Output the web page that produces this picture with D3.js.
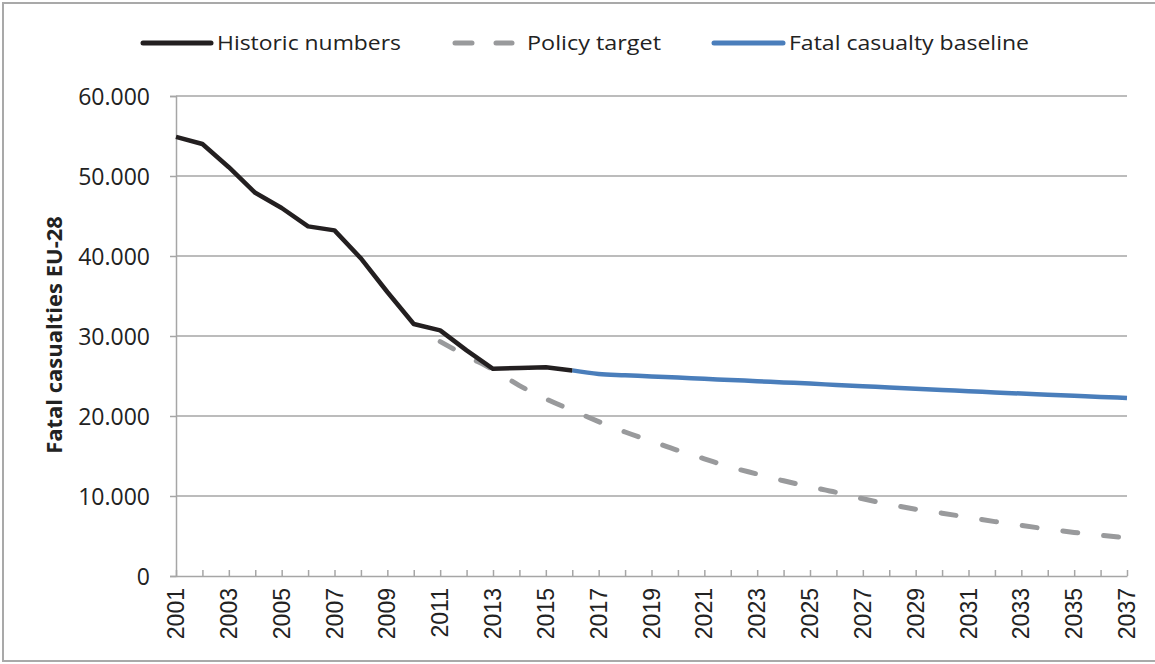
<!DOCTYPE html>
<html>
<head>
<meta charset="utf-8">
<script src="https://cdn.jsdelivr.net/npm/d3@7"></script>
<style>
  html, body { margin: 0; padding: 0; background: #fff; }
  svg { display: block; }
</style>
</head>
<body>
<svg id="chart" width="1155" height="664"></svg>
<script>
// ---- data ----
const historicYears = [2001,2002,2003,2004,2005,2006,2007,2008,2009,2010,2011,2012,2013,2014,2015,2016];
const historicValues = [54900,54000,51100,47900,46000,43700,43200,39700,35500,31500,30700,28200,25900,26000,26100,25700];

const targetYears = [2011,2012,2013,2014,2015,2016,2017,2018,2019,2020,2021,2022,2023,2024,2025,2026,2027,2028,2029,2030,2031,2032,2033,2034,2035,2036,2037];
const targetValues = [29300,27500,25800,23800,22150,20700,19300,18000,16850,15700,14650,13600,12750,11900,11150,10450,9650,8950,8350,7850,7330,6800,6320,5870,5450,5100,4790];

const baselineYears = [2016,2017,2018,2019,2020,2021,2022,2023,2024,2025,2026,2027,2028,2029,2030,2031,2032,2033,2034,2035,2036,2037];
const baselineValues = [25700,25250,25100,24950,24800,24650,24500,24350,24200,24050,23880,23720,23560,23400,23250,23100,22950,22800,22660,22520,22380,22250];

const xTickLabels = [2001,2003,2005,2007,2009,2011,2013,2015,2017,2019,2021,2023,2025,2027,2029,2031,2033,2035,2037];
const yTickValues = [0,10000,20000,30000,40000,50000,60000];
const seriesNames = ["Historic numbers","Policy target","Fatal casualty baseline"];
const yAxisTitle = "Fatal casualties EU-28";

// ---- drawing ----
const svg = d3.select("#chart");
const colors = { hist: "#231f20", target: "#999a9c", base: "#4a7ebb", grid: "#a6a6a6" };

const x = d3.scaleLinear().domain([2001, 2037]).range([176, 1127]);
const y = d3.scaleLinear().domain([0, 60000]).range([576, 96]);

const locale = d3.formatLocale({ decimal: ",", thousands: ".", grouping: [3], currency: ["", "€"] });
const fmt = locale.format(",.0f");

// outer border
svg.append("rect").attr("x", 3).attr("y", 3).attr("width", 1170).attr("height", 658)
  .attr("fill", "none").attr("stroke", "#a9a9a9").attr("stroke-width", 2);

// gridlines
svg.append("g").selectAll("line").data(yTickValues.filter(d => d > 0)).join("line")
  .attr("x1", x(2001)).attr("x2", x(2037))
  .attr("y1", d => y(d)).attr("y2", d => y(d))
  .attr("stroke", colors.grid).attr("stroke-width", 1.5);

// y axis
const yAxis = svg.append("g").attr("transform", `translate(${x(2001)},0)`)
  .call(d3.axisLeft(y).tickValues(yTickValues).tickFormat(fmt).tickSize(6).tickPadding(20));
yAxis.select(".domain").attr("stroke", colors.grid).attr("stroke-width", 1.5);
yAxis.selectAll(".tick line").attr("stroke", colors.grid).attr("stroke-width", 1.5);
yAxis.selectAll("text").attr("font-family", "'Open Sans', sans-serif").attr("font-size", 23)
  .attr("fill", "#222").attr("dy", "0.36em");

// x axis
const allYears = d3.range(2001, 2038);
const xAxis = svg.append("g").attr("transform", `translate(0,${y(0)})`)
  .call(d3.axisBottom(x).tickValues(allYears).tickFormat("").tickSizeInner(-6).tickSizeOuter(0));
xAxis.select(".domain").attr("stroke", colors.grid).attr("stroke-width", 1.5);
xAxis.selectAll(".tick line").attr("stroke", colors.grid).attr("stroke-width", 1.5);

svg.append("g").selectAll("text").data(xTickLabels).join("text")
  .attr("transform", d => `translate(${x(d) + 8},${588}) rotate(-90)`)
  .attr("text-anchor", "end")
  .attr("font-family", "'Liberation Sans', Arial, sans-serif")
  .attr("font-size", 23).attr("fill", "#222")
  .text(d => d);

// y axis title
svg.append("text")
  .attr("transform", `translate(62,335) rotate(-90)`)
  .attr("text-anchor", "middle")
  .attr("font-family", "'Open Sans', sans-serif").attr("font-weight", "bold")
  .attr("font-size", 22).attr("fill", "#222")
  .text(yAxisTitle);

// lines
const line = d3.line().x(d => x(d[0])).y(d => y(d[1]));
const lineSmooth = d3.line().x(d => x(d[0])).y(d => y(d[1])).curve(d3.curveMonotoneX);

svg.append("path").datum(d3.zip(targetYears, targetValues))
  .attr("d", lineSmooth).attr("fill", "none").attr("stroke", colors.target)
  .attr("stroke-width", 5).attr("stroke-linecap", "round").attr("stroke-dasharray", "15,26");

svg.append("path").datum(d3.zip(baselineYears, baselineValues))
  .attr("d", lineSmooth).attr("fill", "none").attr("stroke", colors.base)
  .attr("stroke-width", 4.5).attr("stroke-linejoin", "round");

svg.append("path").datum(d3.zip(historicYears, historicValues))
  .attr("d", line).attr("fill", "none").attr("stroke", colors.hist)
  .attr("stroke-width", 4.5).attr("stroke-linejoin", "round");

// legend
const legend = [
  { name: seriesNames[0], x1: 143, x2: 211, tx: 217, tw: 184, color: colors.hist, dash: null },
  { name: seriesNames[1], x1: 455, x2: 512, tx: 527, tw: 134, color: colors.target, dash: "17,24" },
  { name: seriesNames[2], x1: 714, x2: 783, tx: 789, tw: 240, color: colors.base, dash: null }
];
const lg = svg.append("g");
legend.forEach(l => {
  lg.append("line").attr("x1", l.x1).attr("x2", l.x2).attr("y1", 43).attr("y2", 43)
    .attr("stroke", l.color).attr("stroke-width", 5).attr("stroke-linecap", "round")
    .attr("stroke-dasharray", l.dash);
  lg.append("text").attr("x", l.tx).attr("y", 43).attr("dy", "0.36em")
    .attr("font-family", "'Open Sans', sans-serif").attr("font-size", 20).attr("fill", "#222")
    .attr("textLength", l.tw).attr("lengthAdjust", "spacingAndGlyphs")
    .text(l.name);
});
</script>
</body>
</html>
